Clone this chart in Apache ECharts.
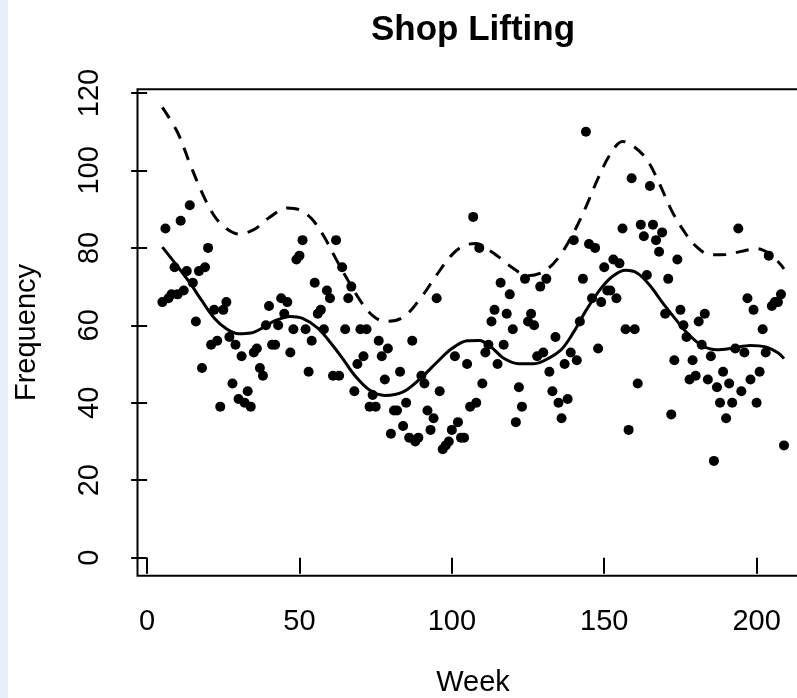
<!DOCTYPE html>
<html>
<head>
<meta charset="utf-8">
<script src="https://cdn.jsdelivr.net/npm/echarts@6/dist/echarts.min.js"></script>
<style>
  html, body { margin: 0; padding: 0; background: #ffffff; }
  #chart { width: 797px; height: 698px; }
</style>
</head>
<body>
<div id="chart"></div>
<script>
// Weekly shop-lifting counts
const weeks = [
  5,6,7,8,9,10,11,12,13,14,15,16,17,18,19,20,21,22,23,24,25,26,27,28,29,30,31,32,33,34,35,36,37,38,39,40,
  41,42,43,44,45,46,47,48,49,50,51,52,53,54,55,56,57,58,59,60,61,62,63,64,65,66,67,68,69,70,71,72,73,74,75,76,77,78,79,80,
  81,82,83,84,85,86,87,88,89,90,91,92,93,94,95,96,97,98,99,100,101,102,103,104,105,106,107,108,109,110,111,112,113,114,115,116,117,118,119,120,
  121,122,123,124,125,126,127,128,129,130,131,132,133,134,135,136,137,138,139,140,141,142,143,144,145,146,147,148,149,150,151,152,153,154,155,156,157,158,159,160,
  161,162,163,164,165,166,167,168,169,170,171,172,173,174,175,176,177,178,179,180,181,182,183,184,185,186,187,188,189,190,191,192,193,194,195,196,197,198,199,200,
  201,202,203,204,205,206,207,208,209
];
const counts = [
  66,85,67,68,75,68,87,69,74,91,71,61,74,49,75,80,55,64,56,39,64,66,57,45,55,41,52,40,43,39,53,54,49,47,60,65,
  55,55,60,67,63,66,53,59,77,78,82,59,48,56,71,63,64,59,69,67,47,82,47,75,59,67,70,43,50,59,52,59,39,42,39,56,52,46,54,32,
  38,38,48,34,40,31,56,30,31,47,45,38,33,36,67,43,28,29,30,33,52,35,31,31,50,39,88,40,80,45,53,55,61,64,50,71,55,63,68,59,
  35,44,39,72,61,63,60,52,70,53,72,48,43,57,40,36,50,41,53,82,51,61,72,110,81,67,80,54,66,75,69,69,77,67,76,85,59,33,98,59,
  45,86,83,73,96,86,82,79,84,63,72,37,51,77,64,60,57,46,51,47,61,55,63,46,52,25,44,40,48,36,45,40,54,85,43,53,67,46,64,40,
  48,59,53,78,65,66,66,68,29
];

// Smoothed trend
const fitWeeks = [5,10,14,18,22,26,30,34,38,42,47,51,56,60,64,68,73,78,84,90,95,100,105,109,113,117,122,127,132,136,140,144,149,153,157,161,165,169,173,177,182,187,192,198,203,207,209];
const fitValues = [80.2,75.2,71.0,66.3,61.9,59.1,57.8,58.0,59.4,61.2,62.3,61.8,59.3,55.7,51.6,47.2,43.3,41.9,42.8,46.5,50.4,54.0,56.0,56.1,54.3,51.5,50.1,50.1,51.6,53.8,58.3,63.8,69.6,72.8,74.2,73.4,70.3,66.0,62.0,58.2,54.8,53.7,54.1,54.8,54.4,52.9,51.4];

// Upper band
const upperWeeks = [5,10,14,18,22,26,30,35,40,46,50,54,58,62,66,70,74,78,84,90,95,100,104,108,112,116,120,125,130,135,140,144,148,152,156,160,164,168,172,176,180,185,190,195,200,204,207,209];
const upperValues = [116.3,109.8,101.8,94.3,88.3,85.0,83.6,84.7,87.8,90.3,89.8,87.5,83.0,77.1,71.5,66.3,62.5,61.0,62.1,67.3,73.0,78.2,80.6,81.1,79.5,77.3,74.8,72.8,73.8,77.5,84.0,90.6,98.0,104.2,107.5,106.0,102.8,96.8,89.8,84.5,80.5,78.2,78.3,79.1,79.8,78.6,76.5,74.6];

const xTicks = [0, 50, 100, 150, 200];
const yTicks = [0, 20, 40, 60, 80, 100, 120];

const FONT = '"Liberation Sans", Arial, Helvetica, sans-serif';

const pairs = (xs, ys) => xs.map((x, i) => [x, ys[i]]);

const chart = echarts.init(document.getElementById('chart'), null, { renderer: 'canvas' });

chart.setOption({
  animation: false,
  backgroundColor: '#ffffff',
  grid: {
    left: 137.5,
    top: 89.3,
    width: 671.5,
    height: 486.4,
    show: true,
    borderColor: '#000000',
    borderWidth: 2,
    backgroundColor: 'transparent',
    containLabel: false,
    outerBoundsMode: 'none'
  },
  xAxis: {
    type: 'value',
    min: -3.16,
    max: 217.2,
    axisLine: { show: false },
    splitLine: { show: false },
    axisTick: {
      show: true,
      customValues: xTicks,
      length: 16,
      lineStyle: { color: '#000000', width: 2 }
    },
    axisLabel: {
      customValues: xTicks,
      fontSize: 29,
      fontFamily: FONT,
      color: '#000000',
      margin: 32
    }
  },
  yAxis: {
    type: 'value',
    min: -4.65,
    max: 120.95,
    axisLine: { show: false },
    splitLine: { show: false },
    axisTick: {
      show: true,
      customValues: yTicks,
      length: 16,
      lineStyle: { color: '#000000', width: 2 }
    },
    axisLabel: {
      customValues: yTicks,
      rotate: 90,
      fontSize: 29,
      fontFamily: FONT,
      color: '#000000',
      margin: 33
    }
  },
  graphic: [
    {
      type: 'rect',
      left: 0, top: 0,
      shape: { width: 8, height: 698 },
      style: { fill: '#e6f0fa' },
      silent: true
    },
    {
      type: 'text',
      x: 473, y: 30,
      style: {
        text: 'Shop Lifting',
        font: 'bold 35px ' + FONT,
        fill: '#000000',
        align: 'center',
        verticalAlign: 'middle'
      }
    },
    {
      type: 'text',
      x: 473, y: 683,
      style: {
        text: 'Week',
        font: '29px ' + FONT,
        fill: '#000000',
        align: 'center',
        verticalAlign: 'middle'
      }
    },
    {
      type: 'text',
      x: 27, y: 332.5,
      rotation: Math.PI / 2,
      style: {
        text: 'Frequency',
        font: '29px ' + FONT,
        fill: '#000000',
        align: 'center',
        verticalAlign: 'middle'
      }
    }
  ],
  series: [
    {
      name: 'counts',
      type: 'scatter',
      data: pairs(weeks, counts),
      symbol: 'circle',
      symbolSize: 10,
      itemStyle: { color: '#000000', opacity: 1 },
      z: 3
    },
    {
      name: 'trend',
      type: 'line',
      data: pairs(fitWeeks, fitValues),
      smooth: 0.35,
      showSymbol: false,
      lineStyle: { color: '#000000', width: 3 },
      z: 4
    },
    {
      name: 'upper',
      type: 'line',
      data: pairs(upperWeeks, upperValues),
      smooth: 0.35,
      showSymbol: false,
      lineStyle: { color: '#000000', width: 3, type: [13, 10] },
      z: 4
    }
  ]
});
</script>
</body>
</html>
